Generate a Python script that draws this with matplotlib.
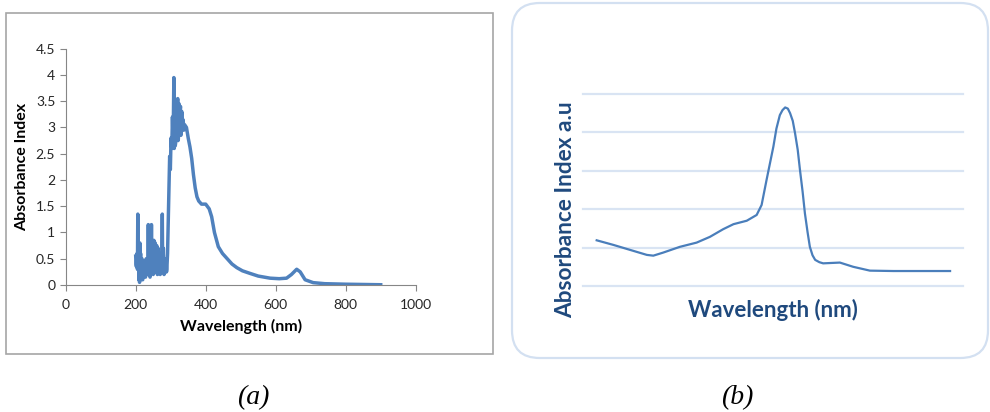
import matplotlib.pyplot as plt
from matplotlib.patches import Rectangle, FancyBboxPatch

# (a) measured spectrum
wl_a = [200, 201, 202, 203, 204, 205, 206, 207, 208, 209, 210, 211, 212, 213, 214, 215, 216,
        217, 218, 219, 220, 221, 222, 223, 224, 225, 226, 227, 228, 229, 230, 231, 232, 233,
        234, 235, 236, 237, 238, 239, 240, 241, 242, 243, 244, 245, 246, 247, 248, 249, 250,
        251, 252, 253, 254, 255, 256, 257, 258, 259, 260, 261, 262, 263, 264, 265, 266, 267,
        268, 269, 270, 271, 272, 273, 274, 275, 276, 277, 278, 279, 280, 281, 282, 283, 284,
        285, 286, 287, 288, 289, 290, 291, 293, 295, 297, 299, 301, 303, 305, 307,
        309, 310, 311, 312, 313, 314, 315, 316, 317, 318, 319, 320, 321, 322, 323, 324, 325,
        326, 327, 328, 329, 330, 331, 332, 333, 334, 335, 336, 338,
        340, 345, 350, 355, 360, 365, 370, 375, 380, 388, 400, 410, 417, 425, 436,
        448, 460, 475, 489, 505, 527, 550, 584, 610, 631, 645, 660, 670, 684, 707,
        740, 800, 850, 900]
abs_a = [0.55, 0.40, 0.35, 0.50, 0.60, 0.30, 1.35, 0.30, 0.80, 0.10, 0.75, 0.05, 0.80, 0.30,
         0.60, 0.20, 0.15, 0.45, 0.50, 0.10, 0.10, 0.40, 0.45, 0.15, 0.20, 0.45, 0.40, 0.20,
         0.15, 0.45, 0.50, 0.20, 0.25, 0.40, 0.35, 0.20, 1.15, 0.20, 0.30, 0.40, 0.20, 0.15,
         0.45, 0.60, 0.30, 1.15, 0.25, 0.35, 0.50, 0.25, 0.20, 0.50, 0.85, 0.35, 0.30, 0.60,
         0.80, 0.30, 0.25, 0.55, 0.75, 0.30, 0.20, 0.50, 0.70, 0.30, 0.30, 0.55, 0.60, 0.25,
         0.20, 0.40, 0.50, 0.25, 0.30, 0.60, 1.35, 0.35, 0.30, 0.70, 0.40, 0.20, 0.35, 0.50,
         0.25, 0.25, 0.40, 0.45, 0.25, 0.30, 0.45, 0.60, 1.20, 1.80, 2.45, 2.20, 2.80, 2.60,
         3.20, 2.70,
         3.95, 2.60, 3.00, 3.30, 2.65, 2.70, 3.20, 3.50, 2.80, 2.90, 3.40, 3.55, 2.75, 2.80,
         3.30, 3.45, 2.85, 2.95, 3.35, 3.40, 2.85, 2.90, 3.25, 3.30, 2.95, 3.00, 3.15, 3.10,
         2.95,
         3.05, 3.00, 2.80, 2.63, 2.41, 2.10, 1.85, 1.68, 1.60, 1.54, 1.54, 1.45, 1.30, 1.00, 0.73,
         0.60, 0.51, 0.40, 0.33, 0.27, 0.22, 0.17, 0.13, 0.12, 0.13, 0.20, 0.30, 0.25, 0.10, 0.045,
         0.025, 0.015, 0.01, 0.005]

# (b) smoothed spectrum, arbitrary units
pos_b = [3.6, 8.0, 12.4, 16.8, 18.5, 21.1, 25.5, 29.9, 33.4, 36.9, 39.6, 43.1, 45.7, 47.0,
         48.3, 50.1, 50.9, 51.8, 52.5, 53.2, 53.9, 54.5, 55.2, 55.8, 56.5, 57.1, 57.8, 58.4,
         59.1, 59.7, 60.4, 61.1, 62.2, 63.2, 67.6, 71.1, 75.5, 81.7, 88.7, 96.6]
abs_b = [1.19, 1.07, 0.94, 0.81, 0.79, 0.87, 1.02, 1.13, 1.28, 1.48, 1.61, 1.70, 1.85, 2.11,
         2.76, 3.63, 4.10, 4.45, 4.58, 4.65, 4.62, 4.50, 4.30, 3.98, 3.55, 3.02, 2.45, 1.89,
         1.40, 1.02, 0.80, 0.68, 0.62, 0.59, 0.61, 0.50, 0.40, 0.39, 0.39, 0.39]

W, H = 990, 412
fig = plt.figure(figsize=(W / 100, H / 100), dpi=100)


def box(x0, y0, x1, y1):
    # pixel box (top-left origin) -> figure fraction rect
    return [x0 / W, 1 - y1 / H, (x1 - x0) / W, (y1 - y0) / H]


# ---- panel (a) ----
fig.patches.append(Rectangle((6 / W, 1 - 354 / H), 487 / W, 341 / H, transform=fig.transFigure,
                             fill=False, edgecolor='#a6a6a6', linewidth=1.2))
ax1 = fig.add_axes(box(65.7, 48.7, 415.7, 285))
ax1.plot(wl_a, abs_a, color='#4f81bd', linewidth=2.5, solid_joinstyle='round')
ax1.set_xlim(0, 1000)
ax1.set_ylim(0, 4.5)
ax1.set_xticks(range(0, 1001, 200))
ax1.set_yticks([0, 0.5, 1, 1.5, 2, 2.5, 3, 3.5, 4, 4.5])
ax1.set_yticklabels(['0', '0.5', '1', '1.5', '2', '2.5', '3', '3.5', '4', '4.5'])
for s in ['top', 'right']:
    ax1.spines[s].set_visible(False)
for s in ['left', 'bottom']:
    ax1.spines[s].set_color('#868686')
ax1.tick_params(direction='out', length=4, color='#868686', labelsize=10, labelcolor='#262626')
ax1.tick_params(axis='x', pad=6)
for lab in ax1.get_xticklabels() + ax1.get_yticklabels():
    lab.set_family('Lato')
ax1.set_xlabel('Wavelength (nm)', family='Lato', weight='bold', fontsize=11.5, labelpad=6)
ax1.set_ylabel('Absorbance Index', family='Lato', weight='bold', fontsize=11.5, labelpad=5)
ax1.patch.set_alpha(0)

# ---- panel (b) ----
fig.patches.append(FancyBboxPatch((512 / W, 1 - 358 / H), 476 / W, 355 / H,
                                  boxstyle='round,pad=0,rounding_size=0.028',
                                  transform=fig.transFigure, fill=False,
                                  edgecolor='#d3e0f1', linewidth=1.6,
                                  mutation_aspect=W / H))
ax2 = fig.add_axes(box(583, 94, 963, 286))
ax2.set_xlim(0, 100)
ax2.set_ylim(0, 5)
for g in range(6):
    ax2.axhline(g, color='#d9e4f3', linewidth=1.6, clip_on=False, zorder=1)
ax2.plot(pos_b, abs_b, color='#4a7ebb', linewidth=1.6, zorder=3)
ax2.set_xticks([])
ax2.set_yticks([])
for s in ax2.spines.values():
    s.set_visible(False)
ax2.patch.set_alpha(0)
ax2.set_xlabel('Wavelength (nm)', family='Lato', weight='bold', fontsize=16,
               color='#1f497d', labelpad=9)
fig.text(566 / W, 1 - 210 / H, 'Absorbance Index a.u', family='Lato', weight='bold',
         fontsize=16.3, color='#1f497d', rotation=90, ha='center', va='center')

# captions
fig.text(253 / W, 1 - 398 / H, '(a)', family='Liberation Serif', style='italic',
         fontsize=20, ha='center', va='center')
fig.text(737 / W, 1 - 398 / H, '(b)', family='Liberation Serif', style='italic',
         fontsize=20, ha='center', va='center')

fig.savefig('out.png', dpi=100)
